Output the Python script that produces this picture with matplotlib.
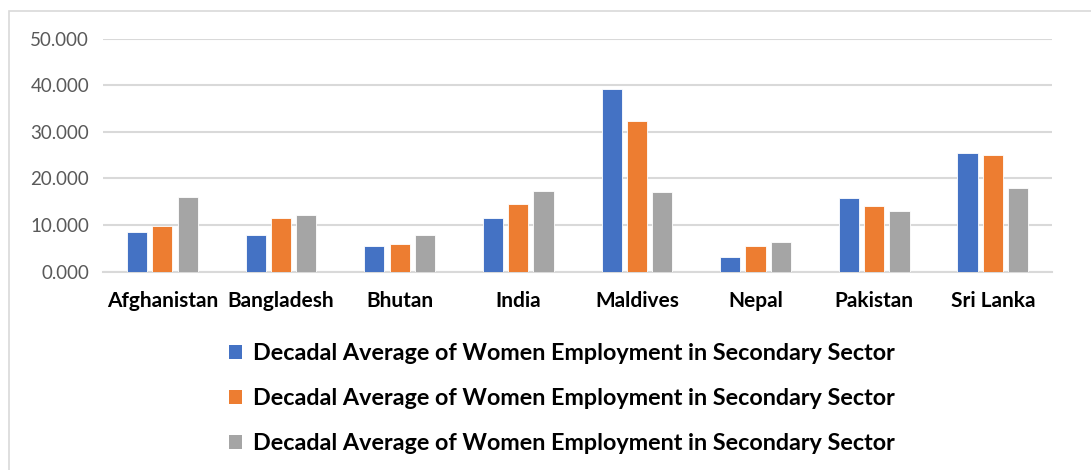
import matplotlib
matplotlib.use("Agg")
import matplotlib.pyplot as plt
from matplotlib.patches import Rectangle
import numpy as np

plt.rcParams['font.family'] = ['Lato', 'DejaVu Sans']

countries = ["Afghanistan", "Bangladesh", "Bhutan", "India", "Maldives", "Nepal", "Pakistan", "Sri Lanka"]
series_labels = ["Decadal Average of Women Employment in Secondary Sector"] * 3
series1 = [8.45, 7.8, 5.6, 11.6, 39.1, 3.1, 15.75, 25.4]
series2 = [9.75, 11.45, 5.95, 14.6, 32.3, 5.45, 14.0, 25.1]
series3 = [16.0, 12.1, 7.8, 17.4, 17.0, 6.3, 13.1, 17.9]
yticks = [0, 10, 20, 30, 40, 50]
colors = ["#4472C4", "#ED7D31", "#A5A5A5"]

fig = plt.figure(figsize=(10.91, 4.70), dpi=100)
ax = fig.add_axes([0.0944, 0.4219, 0.870, 0.4958])

x = np.arange(len(countries))
w = 0.17
off = 0.213
for i, (vals, c) in enumerate(zip([series1, series2, series3], colors)):
    ax.bar(x + (i - 1) * off, vals, width=w, color=c, edgecolor="white", linewidth=0.6, zorder=3)

ax.set_xlim(-0.5, len(countries) - 0.5)
ax.set_ylim(0, 50)
ax.set_yticks(yticks)
ax.set_yticklabels([f"{v:.3f}" for v in yticks], fontsize=13.5, color="#595959")
ax.set_xticks(x)
ax.set_xticklabels(countries, fontsize=15, fontweight="bold", color="black")
ax.tick_params(axis="both", length=0)
ax.tick_params(axis="x", pad=14)
ax.tick_params(axis="y", pad=10)
ax.grid(axis="y", color="#D9D9D9", linewidth=1.5, zorder=0)
for s in ["top", "right", "left"]:
    ax.spines[s].set_visible(False)
ax.spines["bottom"].set_color("#D9D9D9")
ax.spines["bottom"].set_linewidth(1.5)

# outer chart border
fig.patches.append(Rectangle((9 / 1091, -0.01), 1.02 - 9 / 1091, 1 - 11 / 470 + 0.01,
                             transform=fig.transFigure, fill=False, edgecolor="#D9D9D9",
                             linewidth=1.2))

handles = [Rectangle((0, 0), 1, 1, facecolor=c, edgecolor="none") for c in colors]
leg = fig.legend(handles, series_labels, loc="center", bbox_to_anchor=(0.515, 0.152),
                 frameon=False, ncol=1, prop={"family": "Lato", "weight": "bold", "size": 16.8},
                 handlelength=0.55, handleheight=0.55, handletextpad=0.45, labelspacing=1.02)

fig.savefig("out.png", dpi=100)
